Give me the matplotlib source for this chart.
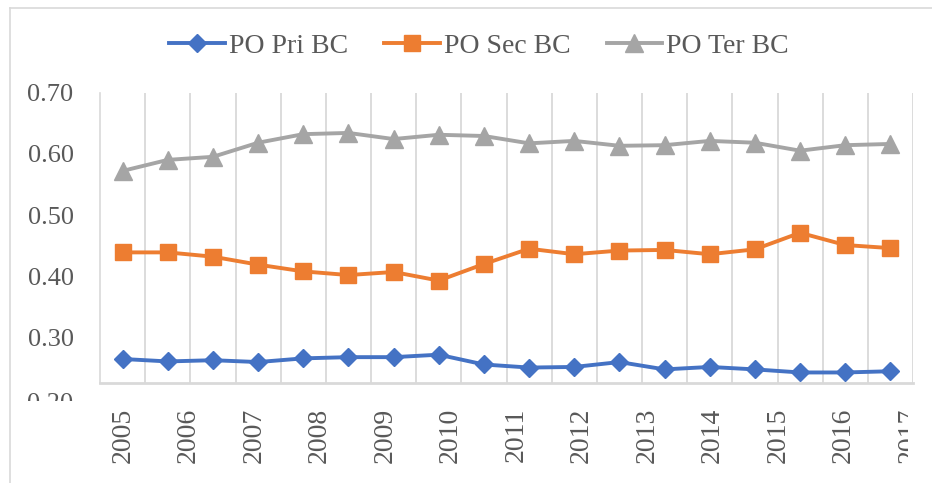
import numpy as np
import matplotlib
matplotlib.use("Agg")
import matplotlib.pyplot as plt
from matplotlib.lines import Line2D
from matplotlib.text import Text
from matplotlib.transforms import Bbox

# ---- data ----
years = ["2005", "2006", "2007", "2008", "2009", "2010", "2011",
         "2012", "2013", "2014", "2015", "2016", "2017"]
po_pri_bc = [0.265, 0.261, 0.263, 0.260, 0.266, 0.268, 0.268, 0.272, 0.256,
             0.251, 0.252, 0.260, 0.248, 0.252, 0.248, 0.243, 0.243, 0.245]
po_sec_bc = [0.439, 0.439, 0.432, 0.419, 0.408, 0.402, 0.407, 0.393, 0.420,
             0.445, 0.436, 0.442, 0.443, 0.436, 0.444, 0.471, 0.451, 0.446]
po_ter_bc = [0.572, 0.590, 0.595, 0.618, 0.632, 0.634, 0.624, 0.631, 0.629,
             0.617, 0.621, 0.613, 0.614, 0.621, 0.618, 0.605, 0.614, 0.616]
y_ticks = [0.30, 0.40, 0.50, 0.60, 0.70]

W, H = 932, 483
DPI = 100
fig = plt.figure(figsize=(W / DPI, H / DPI), dpi=DPI)
fig.patch.set_facecolor("white")

SERIF = ["Liberation Serif", "DejaVu Serif"]
TXT = "#595959"
GRID = "#D9D9D9"

ax_left, ax_right, ax_top, ax_bottom = 100, 913, 92.5, 383
ax = fig.add_axes([ax_left / W, 1 - ax_bottom / H,
                   (ax_right - ax_left) / W, (ax_bottom - ax_top) / H])

x = np.arange(len(po_pri_bc))
series = [
    ("PO Pri BC", po_pri_bc, "#4472C4", "D", 9.5),
    ("PO Sec BC", po_sec_bc, "#ED7D31", "s", 12),
    ("PO Ter BC", po_ter_bc, "#A5A5A5", "^", 13),
]
for label, vals, col, mk, ms in series:
    ax.plot(x, vals, color=col, lw=2.8, marker=mk, ms=ms,
            markerfacecolor=col, markeredgecolor=col, label=label,
            solid_joinstyle="round", zorder=3)

ax.set_xlim(-0.5, len(x) - 0.5)
ax.set_ylim(0.2258, 0.70)

# vertical gridlines at category boundaries
ax.set_xticks(np.arange(0.5, len(x), 1.0), minor=True)
ax.grid(True, which="minor", axis="x", color=GRID, lw=1.3)
ax.tick_params(which="minor", length=0)

# year labels
label_pos = [0.01 + 1.45 * i for i in range(len(years))]
ax.set_xticks(label_pos)
ax.set_xticklabels(years, rotation=90, fontfamily=SERIF, fontsize=20,
                   color=TXT, va="top", ha="center")
ax.tick_params(axis="x", which="major", length=0, pad=18)

ax.set_yticks(y_ticks)
ax.set_yticklabels([f"{v:.2f}" for v in y_ticks], fontfamily=SERIF,
                   fontsize=19, color=TXT)
ax.tick_params(axis="y", length=0, pad=19)

for s in ["top", "right"]:
    ax.spines[s].set_visible(False)
ax.spines["left"].set_color(GRID)
ax.spines["left"].set_linewidth(1.2)
ax.spines["bottom"].set_color(GRID)
ax.spines["bottom"].set_linewidth(2)

# clip the last year label at the right edge, as in the reference
fig.canvas.draw()
last = ax.get_xticklabels()[-1]
last.set_clip_on(True)
last.set_clip_box(Bbox.from_extents(0, 0, 908, H))

# partially hidden 0.20 label (only its upper part shows in the reference)
t20 = Text(73 / W, 1 - 404 / H, "0.20", transform=fig.transFigure,
           ha="right", va="center", fontfamily=SERIF, fontsize=19, color=TXT)
fig.add_artist(t20)
t20.set_clip_on(True)
t20.set_clip_box(Bbox.from_extents(0, H - 401, 100, H - 380))

# legend
leg = fig.legend(loc="center", bbox_to_anchor=(479 / W, 1 - 46 / H), ncol=3,
                 frameon=False, prop={"family": SERIF, "size": 20},
                 handlelength=2.0, handletextpad=0.15, columnspacing=1.3,
                 numpoints=1)
for t in leg.get_texts():
    t.set_color(TXT)

# outer chart frame
fig.add_artist(Line2D([10 / W, 10 / W], [0, 1 - 8 / H],
                      transform=fig.transFigure, color=GRID, lw=1.2))
fig.add_artist(Line2D([10 / W, 1], [1 - 8 / H, 1 - 8 / H],
                      transform=fig.transFigure, color=GRID, lw=1.2))

fig.savefig("out.png", dpi=DPI)
